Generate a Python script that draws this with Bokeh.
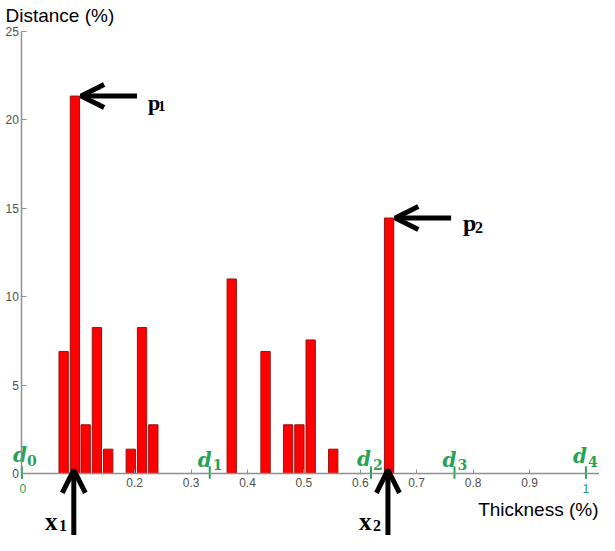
from bokeh.plotting import figure
from bokeh.models import Range1d, FixedTicker, Arrow, OpenHead
from bokeh.core.properties import value
from bokeh.embed import file_html
from bokeh.resources import INLINE

# ---- data ----
thickness = [0.074, 0.094, 0.113, 0.133, 0.153, 0.193, 0.213, 0.233,
             0.372, 0.432, 0.472, 0.492, 0.512, 0.552, 0.651]
distance = [6.9, 21.35, 2.75, 8.25, 1.37, 1.37, 8.25, 2.75,
            11.0, 6.9, 2.75, 2.75, 7.55, 1.37, 14.45]
x_ticks = [0.2, 0.3, 0.4, 0.5, 0.6, 0.7, 0.8, 0.9]
y_ticks = [0, 5, 10, 15, 20, 25]
d_pos = [0.0, 0.333, 0.619, 0.767, 1.0]
d_sub = ["0", "1", "2", "3", "4"]
end_ticks = [0.0, 1.0]
end_labels = ["0", "1"]
peak_idx = [1, 14]
peak_names = ["1", "2"]
x_label = "Thickness (%)"
y_label = "Distance (%)"

GREEN = "#25a356"
AXIS = "#8f8f8f"
LABEL = "#505050"

X0, X1 = -0.03797, 1.02411
Y0, Y1 = -3.514, 26.758

p = figure(width=599, height=535, title=None,
           x_range=Range1d(X0, X1), y_range=Range1d(Y0, Y1),
           output_backend="svg", toolbar_location=None,
           min_border=0, min_border_left=0, min_border_right=0,
           min_border_top=0, min_border_bottom=0)
p.outline_line_color = None
p.grid.visible = False
p.background_fill_color = "white"
p.border_fill_color = "white"

# axes, drawn at data location (take no panel space)
xa = p.xaxis[0]
xa.fixed_location = 0
xa.bounds = (0, 1.024)
xa.ticker = FixedTicker(ticks=x_ticks)
xa.axis_line_color = AXIS
xa.axis_line_width = 1.5
xa.major_tick_line_color = AXIS
xa.major_tick_in = 4
xa.major_tick_out = 0
xa.minor_tick_line_color = None
xa.major_label_standoff = 5
xa.major_label_text_font = "Liberation Sans"
xa.major_label_text_font_size = "12px"
xa.major_label_text_color = LABEL

ya = p.yaxis[0]
ya.fixed_location = 0
ya.bounds = (0, 25)
ya.ticker = FixedTicker(ticks=y_ticks)
ya.axis_line_color = AXIS
ya.axis_line_width = 1.5
ya.major_tick_line_color = AXIS
ya.major_tick_in = 5
ya.major_tick_out = 0
ya.minor_tick_line_color = None
ya.major_label_standoff = 3
ya.major_label_text_font = "Liberation Sans"
ya.major_label_text_font_size = "12px"
ya.major_label_text_color = LABEL

# bars
p.vbar(x=thickness, top=distance, bottom=0, width=0.0165,
       fill_color="#ff0000", line_color="#9a1010", line_width=1)

# green division ticks and labels
p.segment(x0=d_pos, y0=[-0.3] * len(d_pos), x1=d_pos, y1=[0.4] * len(d_pos),
          line_color=GREEN, line_width=2)
p.text(x=end_ticks, y=[0, 0], text=end_labels, x_offset=[1, 0], y_offset=15.5,
       text_align="center", text_baseline="alphabetic",
       text_font=value("Liberation Sans"), text_font_size="12px", text_color=GREEN)
p.text(x=d_pos, y=[0] * len(d_pos), text=["d"] * len(d_pos),
       x_offset=[-9, -12, -14, -12, -13], y_offset=[-18, -13.5, -14, -13.5, -17],
       text_align="left", text_baseline="alphabetic",
       text_font=value("DejaVu Serif"), text_font_style="bold italic",
       text_font_size="20px", text_color=GREEN)
p.text(x=d_pos, y=[0] * len(d_pos), text=d_sub,
       x_offset=[5, 3, 2, 3, 2], y_offset=[-13, -8.5, -9, -8.5, -12],
       text_align="left", text_baseline="alphabetic",
       text_font=value("DejaVu Serif"), text_font_style="bold",
       text_font_size="14px", text_color=GREEN)

# peak arrows (horizontal) and labels p1, p2
for k, i in enumerate(peak_idx):
    xb, yb = thickness[i], distance[i]
    p.add_layout(Arrow(end=OpenHead(size=23, line_width=5, line_color="black"),
                       x_start=xb + 0.11, y_start=yb, x_end=xb + 0.011, y_end=yb,
                       line_width=5, line_color="black"))
    p.text(x=[xb], y=[yb], text=["p"], x_offset=73 + k, y_offset=6.5 - 1.5 * k,
           text_align="left", text_baseline="alphabetic",
           text_font=value("Liberation Serif"), text_font_style="bold",
           text_font_size="22px" if k == 0 else "24px", text_color="black")
    p.text(x=[xb], y=[yb], text=[peak_names[k]], x_offset=83 + 3 * k, y_offset=9.5,
           text_align="left", text_baseline="alphabetic",
           text_font=value("Liberation Serif"), text_font_style="bold",
           text_font_size="15px" if k == 0 else "16px", text_color="black")
    # vertical arrows x1, x2
    p.add_layout(Arrow(end=OpenHead(size=23, line_width=5, line_color="black"),
                       x_start=xb - 0.002, y_start=-4.0, x_end=xb - 0.002, y_end=0.2,
                       line_width=5, line_color="black"))
    p.text(x=[xb], y=[0], text=["x"], x_offset=-30, y_offset=48,
           text_align="left", text_baseline="alphabetic",
           text_font=value("Liberation Serif"), text_font_style="bold",
           text_font_size="25px", text_color="black")
    p.text(x=[xb], y=[0], text=[peak_names[k]], x_offset=-16, y_offset=52,
           text_align="left", text_baseline="alphabetic",
           text_font=value("Liberation Serif"), text_font_style="bold",
           text_font_size="16px", text_color="black")

# axis titles
p.text(x=[X0], y=[25], text=[y_label], x_offset=5, y_offset=-16,
       text_align="left", text_baseline="alphabetic",
       text_font=value("Liberation Sans"), text_font_size="19px", text_color="black")
p.text(x=[X1], y=[0], text=[x_label], x_offset=-1, y_offset=36,
       text_align="right", text_baseline="alphabetic",
       text_font=value("Liberation Sans"), text_font_size="19px", text_color="black")

open("out.html", "w").write(file_html(p, INLINE))
